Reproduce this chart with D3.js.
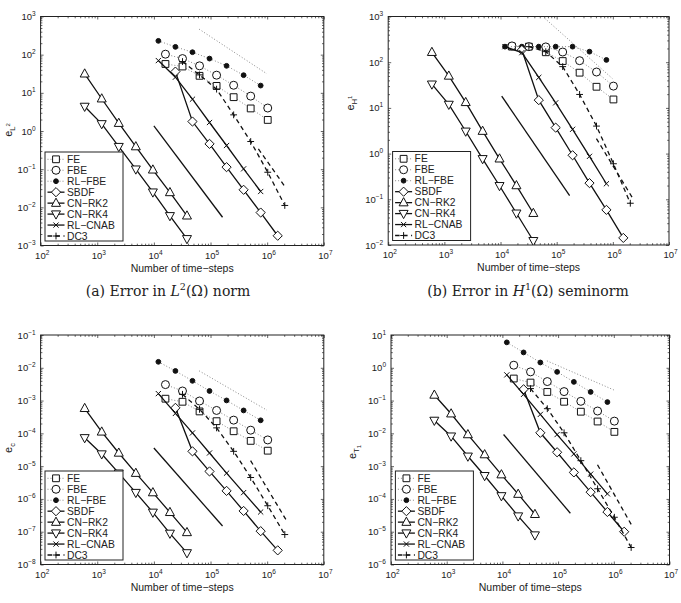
<!DOCTYPE html>
<html>
<head>
<meta charset="utf-8">
<script src="https://cdn.jsdelivr.net/npm/d3@7"></script>
<style>
  body { margin: 0; background: #fff; }
  text { font-family: "Liberation Sans", Arial, sans-serif; fill: #222; }
</style>
</head>
<body>
<svg id="fig" width="681" height="603"></svg>
<script>
// time-step counts (x values)
var N_RK   = [600, 1200, 2400, 4800, 9600, 19200, 38400];
var N_FE   = [16000, 32000, 64000, 128000, 256000, 512000, 1024000];
var N_RL   = [12000, 24000, 48000, 96000, 192000, 384000, 768000];
var N_SBDF = [24000, 48000, 96000, 192000, 384000, 768000, 1536000];
var N_DC3  = [32000, 64000, 128000, 256000, 512000, 1024000, 2048000];

var methods = ["FE", "FBE", "RL\u2212FBE", "SBDF", "CN\u2212RK2", "CN\u2212RK4", "RL\u2212CNAB", "DC3"];

// (a) L2 error
var a_FE    = [57, 49, 27.9, 15.2, 7.7, 3.9, 1.95];
var a_FBE   = [103, 79, 51, 29, 15.8, 8.2, 4.0];
var a_RLFBE = [230, 160, 116, 79, 51, 29, 15.5];
var a_SBDF  = [36, 1.77, 0.46, 0.113, 0.0288, 0.0073, 0.0018];
var a_RK2   = [31.5, 7.0, 1.6, 0.39, 0.096, 0.0245, 0.006];
var a_RK4   = [4.4, 1.54, 0.39, 0.1, 0.025, 0.006, 0.0015];
var a_CNAB  = [70, 25.7, 6.8, 1.67, 0.417, 0.102, 0.026];
var a_DC3   = [66, 29.5, 12.5, 2.65, 0.53, 0.083, 0.0112];
var a_refDot   = [[6.3e4, 466], [9.9e5, 31.5]];
var a_refSolid = [[1e4, 1.36], [1.63e5, 0.0055]];
var a_refDash  = [[7e5, 0.34], [2.09e6, 0.034]];

// (b) H1 error
var b_FE    = [219, 219, 165, 106, 59, 29, 15.3];
var b_FBE   = [227, 219, 216, 167, 108, 61, 30];
var b_RLFBE = [219, 219, 219, 219, 219, 170, 112];
var b_SBDF  = [185, 14.8, 3.7, 0.92, 0.226, 0.0587, 0.0143];
var b_RK2   = [165, 50, 13.2, 3.1, 0.77, 0.2, 0.0495];
var b_RK4   = [33, 11.9, 3.08, 0.77, 0.198, 0.0496, 0.0124];
var b_CNAB  = [219, 162, 46.5, 12.9, 3.4, 0.87, 0.219];
var b_DC3   = [219, 170, 80, 19.7, 4.0, 0.6, 0.082];
var b_refDot   = [[6.1e4, 919], [9.8e5, 44]];
var b_refSolid = [[1.05e4, 18.1], [1.7e5, 0.121]];
var b_refDash  = [[5.1e5, 2.13], [2.2e6, 0.111]];

// (c) e_c
var c_FE    = [1.14e-3, 9.2e-4, 4.67e-4, 2.35e-4, 1.16e-4, 5.9e-5, 2.96e-5];
var c_FBE   = [3.07e-3, 1.96e-3, 9.7e-4, 5.0e-4, 2.53e-4, 1.25e-4, 6.3e-5];
var c_RLFBE = [0.0152, 0.0080, 0.0040, 1.96e-3, 1.01e-3, 5.0e-4, 2.5e-4];
var c_SBDF  = [6.0e-4, 2.83e-5, 6.9e-6, 1.76e-6, 4.3e-7, 1.04e-7, 2.7e-8];
var c_RK2   = [5.8e-4, 1.11e-4, 2.52e-5, 6.1e-6, 1.56e-6, 3.9e-7, 9.5e-8];
var c_RK4   = [7.3e-5, 2.34e-5, 6.1e-6, 1.56e-6, 3.9e-7, 8.9e-8, 2.26e-8];
var c_CNAB  = [1.63e-3, 4.05e-4, 1.03e-4, 2.52e-5, 6.1e-6, 1.56e-6, 4.0e-7];
var c_DC3   = [1.55e-3, 5.4e-4, 1.47e-4, 2.83e-5, 4.5e-6, 6.2e-7, 8.2e-8];
var c_refDot   = [[6.3e4, 8.05e-3], [9.9e5, 5.1e-4]];
var c_refSolid = [[1e4, 3.58e-5], [1.63e5, 1.49e-7]];
var c_refDash  = [[5.1e5, 1.47e-5], [2.17e6, 2.27e-7]];

// (d) e_T1
var d_FE    = [0.47, 0.354, 0.183, 0.092, 0.0457, 0.023, 0.0111];
var d_FBE   = [1.2, 0.75, 0.38, 0.188, 0.095, 0.048, 0.0236];
var d_RLFBE = [5.96, 2.94, 1.45, 0.75, 0.371, 0.183, 0.090];
var d_SBDF  = [0.221, 0.0104, 2.65e-3, 6.45e-4, 1.61e-4, 4.0e-5, 1.0e-5];
var d_RK2   = [0.148, 0.0397, 9.2e-3, 2.25e-3, 5.5e-4, 1.4e-4, 3.4e-5];
var d_RK4   = [0.0248, 8.2e-3, 2.0e-3, 5.1e-4, 1.24e-4, 3.0e-5, 7.9e-6];
var d_CNAB  = [0.608, 0.155, 0.0379, 9.2e-3, 2.36e-3, 5.7e-4, 1.43e-4];
var d_DC3   = [0.232, 0.0565, 0.0104, 1.47e-3, 2.04e-4, 2.76e-5, 3.3e-6];
var d_refDot   = [[6.3e4, 1.63], [1e6, 0.211]];
var d_refSolid = [[1.05e4, 9.2e-3], [1.66e5, 3.66e-5]];
var d_refDash  = [[5.1e5, 1.1e-3], [2.08e6, 1.6e-5]];

var svg = d3.select("#fig");

// marker shapes, line styles per method
var markers = {
  square: "M-3.4,-3.4H3.4V3.4H-3.4Z",
  circle: "M4,0A4,4 0 1 1 -4,0A4,4 0 1 1 4,0Z",
  dot:    "M2.4,0A2.4,2.4 0 1 1 -2.4,0A2.4,2.4 0 1 1 2.4,0Z",
  diamond:"M0,-4.6L4.6,0L0,4.6L-4.6,0Z",
  triUp:  "M0,-5L4.5,3.2L-4.5,3.2Z",
  triDn:  "M0,5L4.5,-3.2L-4.5,-3.2Z",
  cross:  "M-2.6,-2.6L2.6,2.6M-2.6,2.6L2.6,-2.6",
  plus:   "M-3.4,0H3.4M0,-3.4V3.4"
};
var styles = [
  { m: "square",  line: "dot"  },
  { m: "circle",  line: "dot"  },
  { m: "dot",     line: "dot",  fill: true },
  { m: "diamond", line: "solid" },
  { m: "triUp",   line: "solid" },
  { m: "triDn",   line: "solid" },
  { m: "cross",   line: "solid" },
  { m: "plus",    line: "dash" }
];
function lineStyle(sel, kind) {
  if (kind == "dot") sel.attr("stroke", "#888").attr("stroke-width", 1).attr("stroke-dasharray", "1 2");
  else if (kind == "dash") sel.attr("stroke", "#111").attr("stroke-width", 1.3).attr("stroke-dasharray", "4.5 3.5");
  else sel.attr("stroke", "#111").attr("stroke-width", 1.3);
  return sel.attr("fill", "none");
}
function markerStyle(sel, st) {
  return sel.attr("d", markers[st.m])
    .attr("fill", st.fill ? "#111" : (st.m == "cross" || st.m == "plus" ? "none" : "#fff"))
    .attr("stroke", "#111").attr("stroke-width", 1);
}

var panels = [
  { x0: 40.6, x1: 323.8, y0: 16.5, y1: 245.5, yd: [1e-3, 1e3], ylx: 12, yly: 130, lab: ["L", "2"], cap: "a",
    series: [a_FE, a_FBE, a_RLFBE, a_SBDF, a_RK2, a_RK4, a_CNAB, a_DC3],
    refs: [a_refDot, a_refSolid, a_refDash] },
  { x0: 388.2, x1: 669, y0: 16.5, y1: 245, yd: [1e-2, 1e3], ylx: 354, yly: 103, lab: ["H", "1"], cap: "b",
    series: [b_FE, b_FBE, b_RLFBE, b_SBDF, b_RK2, b_RK4, b_CNAB, b_DC3],
    refs: [b_refDot, b_refSolid, b_refDash] },
  { x0: 40.6, x1: 323.8, y0: 335, y1: 564.5, yd: [1e-8, 1e-1], ylx: 12, yly: 448, lab: ["c"],
    series: [c_FE, c_FBE, c_RLFBE, c_SBDF, c_RK2, c_RK4, c_CNAB, c_DC3],
    refs: [c_refDot, c_refSolid, c_refDash] },
  { x0: 391, x1: 669.5, y0: 335, y1: 564.5, yd: [1e-6, 1e1], ylx: 356, yly: 452, lab: ["T", "1"],
    series: [d_FE, d_FBE, d_RLFBE, d_SBDF, d_RK2, d_RK4, d_CNAB, d_DC3],
    refs: [d_refDot, d_refSolid, d_refDash] }
];
var xs = [N_FE, N_FE, N_RL, N_SBDF, N_RK, N_RK, N_RL, N_DC3];

function decades(dom) {
  var out = [];
  for (var e = Math.round(Math.log10(dom[0])); e <= Math.round(Math.log10(dom[1])); e++) out.push(e);
  return out;
}
function minors(dom) {
  var out = [];
  decades(dom).slice(0, -1).forEach(function(e) {
    for (var k = 2; k < 10; k++) out.push(k * Math.pow(10, e));
  });
  return out;
}

panels.forEach(function(p, pi) {
  var x = d3.scaleLog().domain([1e2, 1e7]).range([p.x0, p.x1]);
  var y = d3.scaleLog().domain(p.yd).range([p.y1, p.y0]);
  var g = svg.append("g");
  var W = p.x1 - p.x0, H = p.y1 - p.y0;

  var cid = "clip" + pi;
  svg.append("clipPath").attr("id", cid).append("rect")
    .attr("x", p.x0).attr("y", p.y0).attr("width", W).attr("height", H);

  // axes ticks (inward, on all sides)
  var xMaj = decades([1e2, 1e7]).map(function(e) { return Math.pow(10, e); });
  var yMaj = decades(p.yd).map(function(e) { return Math.pow(10, e); });
  function ax(gen, vals, len, tx) {
    var a = g.append("g").attr("transform", tx)
      .call(gen.tickValues(vals).tickSize(-len).tickFormat(""));
    a.select(".domain").remove();
    a.selectAll("line").attr("stroke", "#222").attr("stroke-width", 0.7);
  }
  [[xMaj, 3], [minors([1e2, 1e7]), 1.8]].forEach(function(t) {
    ax(d3.axisBottom(x), t[0], t[1], "translate(0," + p.y1 + ")");
    ax(d3.axisTop(x), t[0], t[1], "translate(0," + p.y0 + ")");
  });
  [[yMaj, 3], [minors(p.yd), 1.8]].forEach(function(t) {
    ax(d3.axisLeft(y), t[0], t[1], "translate(" + p.x0 + ",0)");
    ax(d3.axisRight(y), t[0], t[1], "translate(" + p.x1 + ",0)");
  });

  g.append("rect").attr("x", p.x0).attr("y", p.y0).attr("width", W).attr("height", H)
    .attr("fill", "none").attr("stroke", "#222").attr("stroke-width", 1);

  // tick labels
  xMaj.forEach(function(v) {
    var t = g.append("text").attr("x", x(v) - 5.5).attr("y", p.y1 + 13).attr("font-size", 9.5);
    t.append("tspan").text("10");
    t.append("tspan").attr("font-size", 6.5).attr("dy", -4).text(String(Math.round(Math.log10(v))).replace("-", "\u2212"));
  });
  yMaj.forEach(function(v) {
    var t = g.append("text").attr("x", p.x0 - 5).attr("y", y(v) + 3.5).attr("font-size", 9.5).attr("text-anchor", "end");
    t.append("tspan").text("10");
    t.append("tspan").attr("font-size", 6.5).attr("dy", -4).text(String(Math.round(Math.log10(v))).replace("-", "\u2212"));
  });

  // axis labels
  g.append("text").attr("x", (p.x0 + p.x1) / 2).attr("y", p.y1 + 26).attr("font-size", 10.5)
    .attr("text-anchor", "middle").text("Number of time\u2212steps");
  var yl = g.append("text").attr("transform", "translate(" + p.ylx + "," + p.yly + ") rotate(-90)")
    .attr("font-size", 11).attr("text-anchor", "middle");
  yl.append("tspan").text("e");
  yl.append("tspan").attr("font-size", 7.5).attr("dy", 3).text(p.lab[0]);
  if (p.lab[1]) {
    if (p.lab[0] == "T") yl.append("tspan").attr("font-size", 6).attr("dy", 2).text(p.lab[1]);
    else yl.append("tspan").attr("font-size", 6).attr("dy", -5).text(p.lab[1]);
  }

  var line = d3.line().x(function(d) { return x(d[0]); }).y(function(d) { return y(d[1]); });
  var plot = g.append("g").attr("clip-path", "url(#" + cid + ")");

  // series
  p.series.forEach(function(vals, i) {
    var pts = xs[i].map(function(n, k) { return [n, vals[k]]; });
    lineStyle(plot.append("path").attr("d", line(pts)), styles[i].line);
    plot.selectAll(null).data(pts).enter().append("path")
      .attr("transform", function(d) { return "translate(" + x(d[0]) + "," + y(d[1]) + ")"; })
      .call(markerStyle, styles[i]);
  });
  // reference slopes
  lineStyle(plot.append("path").attr("d", line(p.refs[0])), "dot");
  lineStyle(plot.append("path").attr("d", line(p.refs[1])), "solid");
  lineStyle(plot.append("path").attr("d", line(p.refs[2])), "dash");

  // legend
  var lx = p.x0 + 4.4, ly = p.y1 - 4.5 - 89;
  var lg = g.append("g").attr("transform", "translate(" + lx + "," + ly + ")");
  lg.append("rect").attr("width", 78).attr("height", 89).attr("fill", "#fff")
    .attr("stroke", "#222").attr("stroke-width", 1);
  methods.forEach(function(name, i) {
    var ry = 7.3 + i * 10.96;
    lineStyle(lg.append("line").attr("x1", 2.5).attr("x2", 19.5).attr("y1", ry).attr("y2", ry), styles[i].line);
    lg.append("path").attr("transform", "translate(11," + ry + ")").call(markerStyle, styles[i]);
    lg.append("text").attr("x", 22).attr("y", ry + 3.6).attr("font-size", 10.3).text(name);
  });

  // captions (top row only, bottom row is cut off)
  if (p.cap) {
    var cx = p.cap == "a" ? 168 : 528;
    var c = g.append("text").attr("x", cx).attr("y", 296).attr("text-anchor", "middle")
      .attr("font-size", 14).style("font-family", "'DejaVu Serif', serif");
    c.append("tspan").text("(" + p.cap + ") Error in ");
    c.append("tspan").attr("font-style", "italic").text(p.cap == "a" ? "L" : "H");
    c.append("tspan").attr("font-size", 9.5).attr("dy", -6).text(p.cap == "a" ? "2" : "1");
    c.append("tspan").attr("dy", 6).text("(\u03a9) " + (p.cap == "a" ? "norm" : "seminorm"));
  }
});
</script>
</body>
</html>
